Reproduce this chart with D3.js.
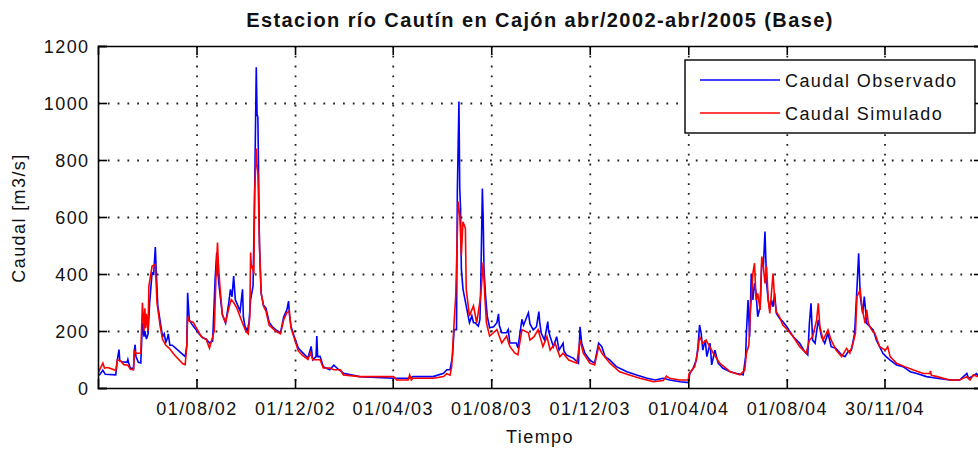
<!DOCTYPE html>
<html lang="es">
<head>
<meta charset="UTF-8">
<title>Estacion río Cautín en Cajón</title>
<script src="https://d3js.org/d3.v7.min.js"></script>
<style>
  body { margin: 0; background: #fff; }
  svg text { font-family: "Liberation Sans", Arial, sans-serif; fill: #111; }
</style>
</head>
<body>
<script>
// days counted from 01/04/2002
const obsDay = [0,2,6,9,22,24,26,27,30,36,37,38,40,44,45,46,47,50,53,55,57,58,60,62,64,67,69,71,72,74,78,80,82,84,86,87,89,92,100,108,110,111,113,116,120,125,130,134,138,142,145,147,148,150,154,158,162,164,166,168,170,173,176,179,180,182,185,187,189,192,194,196,197,198,200,202,205,208,212,216,220,226,230,234,236,237,239,243,248,253,260,264,266,270,271,272,275,279,287,292,298,304,324,366,386,390,415,428,432,436,439,441,444,445,447,448,449,450,452,456,460,463,465,467,471,473,474,476,477,478,480,482,485,490,494,496,497,500,506,508,510,518,520,525,527,533,535,539,543,546,547,549,553,557,558,560,564,568,571,576,577,580,589,595,597,599,603,609,615,620,624,628,634,642,655,667,680,690,700,708,721,731,733,737,741,743,745,747,749,752,754,758,760,764,768,774,783,791,799,802,803,805,807,809,811,813,815,817,820,822,824,826,828,830,832,834,836,838,840,844,848,853,861,869,875,879,881,883,885,888,892,896,900,904,908,914,921,925,929,933,937,940,942,944,947,949,952,956,960,964,968,972,976,981,989,997,1006,1014,1026,1039,1055,1067,1076,1078,1082,1088,1092,1095];
const obsQ = [45,46,62,48,46,100,135,95,92,90,100,88,70,68,130,152,110,90,88,228,180,200,172,190,300,405,400,495,420,290,215,180,190,160,175,190,150,150,130,110,150,334,240,225,210,190,175,172,158,165,380,475,420,357,258,228,300,346,320,393,310,290,270,346,250,216,200,230,310,357,687,1125,960,950,500,334,290,280,230,215,205,193,250,275,305,260,216,181,140,125,105,146,99,110,182,110,111,75,64,80,65,52,40,34,34,40,40,52,64,64,111,205,205,689,1005,700,630,418,347,288,229,253,229,229,217,241,359,700,600,418,323,253,211,215,229,260,220,194,194,205,158,158,140,241,220,264,225,204,215,268,230,192,168,233,200,180,145,180,133,157,130,116,104,87,215,157,122,98,87,157,145,110,98,75,57,46,34,28,34,28,22,19,51,69,98,145,221,192,133,168,110,157,81,133,87,69,57,51,46,110,192,309,180,402,309,367,332,250,285,438,426,549,367,309,274,309,285,332,262,245,233,215,180,157,128,116,227,297,168,157,239,180,157,192,145,139,116,110,128,133,192,356,473,321,262,321,227,215,204,168,145,122,110,98,81,75,57,51,40,34,28,28,51,34,40,51,35,38];

const simDay = [0,3,6,8,12,22,24,28,32,37,40,44,45,47,53,55,57,58,59,60,62,63,67,71,73,77,80,84,88,95,105,108,110,111,113,118,122,128,134,138,144,146,148,149,151,154,158,162,165,168,172,176,180,183,186,188,189,190,191,193,194,196,197,198,200,202,205,208,212,216,220,226,230,234,237,239,243,248,253,260,263,266,275,279,287,292,300,304,324,366,370,384,386,388,390,415,428,432,436,438,441,443,446,448,450,452,455,456,460,465,469,474,477,479,481,485,494,500,506,510,516,520,525,533,535,540,545,551,556,560,566,572,576,583,593,597,601,609,615,620,624,634,646,658,671,688,700,704,708,720,731,732,739,743,745,749,753,762,770,783,795,801,803,806,808,809,811,813,815,817,820,822,824,826,828,830,832,836,838,840,844,848,853,861,869,877,881,885,890,892,894,898,904,908,914,921,927,931,935,938,940,944,946,950,952,954,958,962,968,975,978,981,989,999,1010,1022,1030,1031,1032,1039,1055,1067,1076,1080,1084,1090,1095];
const simQ = [50,70,87,70,72,62,99,95,82,80,66,64,130,122,122,299,200,280,210,260,200,357,428,434,300,216,170,150,140,115,85,82,150,252,235,230,210,180,170,140,200,380,510,440,357,258,230,280,310,300,280,250,220,200,190,250,475,420,430,400,687,840,780,757,500,334,287,270,220,210,200,190,240,265,270,210,175,130,115,100,123,99,99,70,70,64,64,46,40,40,28,28,46,28,34,34,40,50,45,75,229,323,654,607,465,583,560,347,253,288,229,323,441,323,229,182,205,158,182,146,123,117,205,194,168,180,204,145,180,133,157,110,122,98,87,168,122,87,81,145,122,87,57,46,34,22,26,42,34,28,28,51,75,133,180,157,168,122,87,57,46,63,122,150,274,309,402,438,309,332,274,461,426,367,426,309,262,402,309,268,250,221,207,180,145,122,168,180,239,297,215,168,204,168,133,110,139,122,157,192,321,344,285,227,274,227,204,192,145,133,145,110,87,75,63,51,51,60,45,40,28,28,40,28,46,40,42];

const yTicks = [0, 200, 400, 600, 800, 1000, 1200];
const tickDates = ["2002-08-01", "2002-12-01", "2003-04-01", "2003-08-01", "2003-12-01", "2004-04-01", "2004-08-01", "2004-11-30"];
const tickLabels = ["01/08/02", "01/12/02", "01/04/03", "01/08/03", "01/12/03", "01/04/04", "01/08/04", "30/11/04"];

const W = 978, H = 450;
const m = {left: 98, top: 46, right: 983, bottom: 388};
const parse = d3.utcParse("%Y-%m-%d");
const start = parse("2002-04-01");
const end = parse("2005-04-01");
const toDate = d => d3.utcDay.offset(start, d);

const svg = d3.select("body").append("svg")
  .attr("width", W).attr("height", H);
svg.append("rect").attr("width", W).attr("height", H).attr("fill", "#fff");

const x = d3.scaleUtc().domain([start, end]).range([m.left, m.right]);
const y = d3.scaleLinear().domain([0, 1200]).range([m.bottom, m.top]);
const tDates = tickDates.map(parse);

// dotted grid
const gridY = svg.append("g").attr("transform", `translate(${m.left},0)`)
  .call(d3.axisLeft(y).tickValues(yTicks.slice(1, -1)).tickSize(-(m.right - m.left)).tickFormat(""));
const gridX = svg.append("g").attr("transform", `translate(0,${m.top})`)
  .call(d3.axisTop(x).tickValues(tDates).tickSize(-(m.bottom - m.top)).tickFormat(""));
[gridX, gridY].forEach(g => {
  g.select(".domain").remove();
  g.selectAll("line").attr("stroke", "#222").attr("stroke-width", 1.8).attr("stroke-dasharray", "1.8,8");
});

svg.append("clipPath").attr("id", "plot")
  .append("rect").attr("x", m.left).attr("y", m.top)
  .attr("width", m.right - m.left).attr("height", m.bottom - m.top);

const line = d3.line().x(d => x(toDate(d[0]))).y(d => y(d[1]));
const series = [
  {name: "Caudal Observado", color: "#0000ff", pts: d3.zip(obsDay, obsQ)},
  {name: "Caudal Simulado", color: "#ff0000", pts: d3.zip(simDay, simQ)}
];
svg.append("g").attr("clip-path", "url(#plot)")
  .selectAll("path").data(series).join("path")
  .attr("d", d => line(d.pts))
  .attr("fill", "none").attr("stroke", d => d.color)
  .attr("stroke-width", 1.6).attr("stroke-linejoin", "miter");

// axes box with inward ticks
const fontSize = 18, ls = "1.4px";
const axB = svg.append("g").attr("transform", `translate(0,${m.bottom})`)
  .call(d3.axisBottom(x).tickValues(tDates).tickSize(-9).tickPadding(0)
    .tickFormat((d, i) => tickLabels[i]));
axB.selectAll("text").attr("y", 27).attr("dy", 0);
const axT = svg.append("g").attr("transform", `translate(0,${m.top})`)
  .call(d3.axisTop(x).tickValues(tDates).tickSize(-9).tickFormat(""));
const axL = svg.append("g").attr("transform", `translate(${m.left},0)`)
  .call(d3.axisLeft(y).tickValues(yTicks).tickSize(-9).tickPadding(0).tickFormat(d3.format("d")));
axL.selectAll("text").attr("x", -8.5).attr("dy", "0.36em");
const axR = svg.append("g").attr("transform", `translate(${m.right},0)`)
  .call(d3.axisRight(y).tickValues(yTicks).tickSize(-9).tickFormat(""));
[axB, axT, axL, axR].forEach(g => {
  g.selectAll(".domain").attr("stroke", "#000").attr("stroke-width", 1.6);
  g.selectAll("line").attr("stroke", "#000").attr("stroke-width", 1.6);
  g.selectAll("text").attr("font-family", null).attr("font-size", fontSize)
    .attr("fill", "#111").style("letter-spacing", ls);
});

// title and axis labels
svg.append("text").attr("x", 540).attr("y", 27).attr("text-anchor", "middle")
  .attr("font-size", 20).attr("font-weight", "bold").style("letter-spacing", "1.4px")
  .text("Estacion río Cautín en Cajón abr/2002-abr/2005 (Base)");
svg.append("text").attr("x", 540).attr("y", 443).attr("text-anchor", "middle")
  .attr("font-size", fontSize).style("letter-spacing", ls).text("Tiempo");
svg.append("text").attr("transform", "translate(25,218) rotate(-90)")
  .attr("text-anchor", "middle").attr("font-size", fontSize).style("letter-spacing", ls)
  .text("Caudal [m3/s]");

// legend
const lg = svg.append("g").attr("transform", "translate(685,60)");
lg.append("rect").attr("width", 290).attr("height", 73)
  .attr("fill", "#fff").attr("stroke", "#000").attr("stroke-width", 1.4);
const items = lg.selectAll("g.item").data(series).join("g")
  .attr("transform", (d, i) => `translate(0,${20 + i * 33})`);
items.append("line").attr("x1", 15).attr("x2", 95)
  .attr("stroke", d => d.color).attr("stroke-width", 1.6);
items.append("text").attr("x", 100).attr("y", 7).attr("font-size", fontSize)
  .style("letter-spacing", ls).text(d => d.name);
</script>
</body>
</html>
